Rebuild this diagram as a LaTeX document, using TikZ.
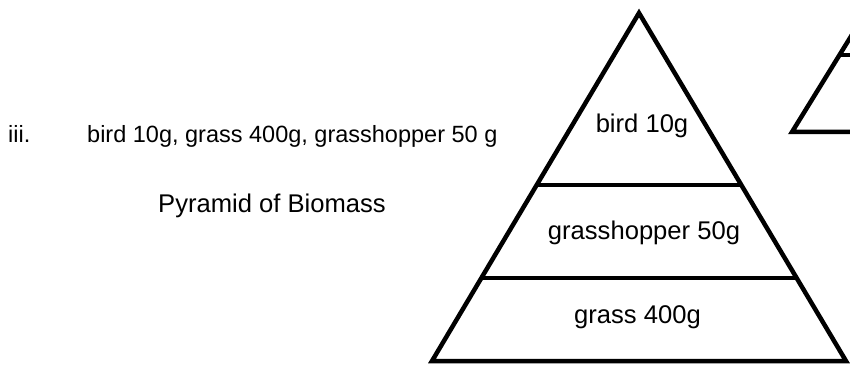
\documentclass[tikz,border=0pt]{standalone}
\usepackage{fontspec}
\setmainfont{Liberation Sans}
\usetikzlibrary{calc}
\begin{document}
\begin{tikzpicture}[x=1pt,y=-1pt,
  tri/.style={line width=4.5pt, line join=miter},
  divider/.style={line width=3.6pt},
  lbl/.style={font=\fontsize{25.6}{30}\selectfont, anchor=base, inner sep=0pt},
  smalltext/.style={font=\fontsize{23.5}{28}\selectfont, anchor=base west, inner sep=0pt}]
\useasboundingbox (0,0) rectangle (850,371);
\fill[white] (0,0) rectangle (850,371);
\clip (0,0) rectangle (850,371);
% main pyramid
\coordinate (apex) at (639,13);
\coordinate (bl) at (432,361);
\coordinate (br) at (846,361);
\draw[tri] (apex) -- (bl) -- (br) -- cycle;
\coordinate (d1l) at ($(apex)!0.494!(bl)$);
\coordinate (d1r) at ($(apex)!0.494!(br)$);
\coordinate (d2l) at ($(apex)!0.761!(bl)$);
\coordinate (d2r) at ($(apex)!0.761!(br)$);
\draw[divider] (d1l) -- (d1r);
\draw[divider] (d2l) -- (d2r);
% labels
\node[lbl] (bird) at (642,133) {bird 10g};
\node[lbl] (hopper) at (644,239) {grasshopper 50g};
\node[lbl] (grass) at (637.5,323) {grass 400g};
\node[smalltext] (num) at (8,142.7) {iii.};
\node[smalltext] (data) at (87,142.7) {bird 10g, grass 400g, grasshopper 50 g};
\node[lbl, anchor=base west] (title) at (158,213) {Pyramid of Biomass};
% partial pyramid at right edge
\coordinate (sbl) at (792,132);
\coordinate (sbr) at (880,132);
\coordinate (sapex) at (873.4,0);
\draw[tri] (sapex) -- (sbl) -- (sbr);
\coordinate (s1l) at ($(sbl)!{77/132}!(sapex)$);
\coordinate (s1r) at (880,55);
\draw[divider] (s1l) -- (s1r);
\end{tikzpicture}
\end{document}
